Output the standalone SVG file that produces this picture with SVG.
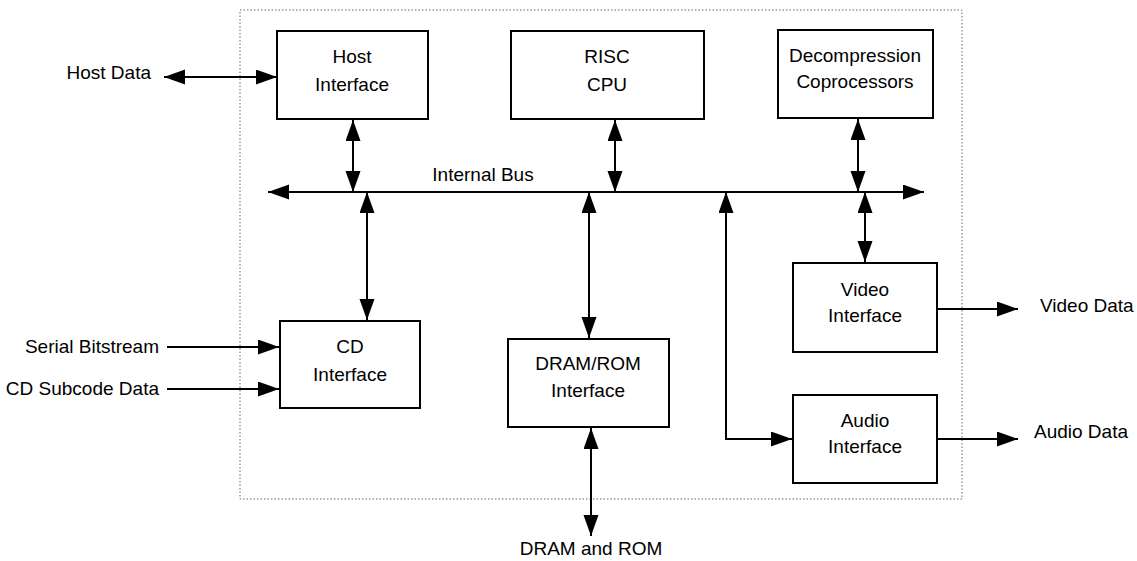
<svg xmlns="http://www.w3.org/2000/svg" width="1137" height="561" viewBox="0 0 1137 561">
  <style>
    .box { fill: #fff; stroke: #000; stroke-width: 2; }
    .lbl { font-family: "Liberation Sans", Arial, sans-serif; font-size: 19px; fill: #000; }
    .mid { text-anchor: middle; }
    .end { text-anchor: end; }
    .wire { fill: none; stroke: #000; stroke-width: 2; }
    .one { marker-end: url(#head); }
    .two { marker-start: url(#head); marker-end: url(#head); }
    .chip { fill: none; stroke: #666; stroke-width: 1; stroke-dasharray: 1.5 2; }
  </style>
  <defs>
    <marker id="head" markerUnits="userSpaceOnUse" markerWidth="22" markerHeight="16" refX="21" refY="7.5" orient="auto-start-reverse">
      <path d="M0,0 L21,7.5 L0,15 Z" fill="#000"/>
    </marker>
  </defs>

  <rect width="1137" height="561" fill="#fff"/>

  <!-- chip boundary -->
  <rect class="chip" x="240" y="10" width="722" height="489"/>

  <!-- connectors -->
  <g id="connectors">
    <line class="wire two" x1="268" y1="192" x2="924" y2="192"/>
    <line class="wire two" x1="164" y1="77" x2="277" y2="77"/>
    <line class="wire two" x1="353" y1="120" x2="353" y2="192"/>
    <line class="wire two" x1="615" y1="120" x2="615" y2="192"/>
    <line class="wire two" x1="858" y1="119" x2="858" y2="192"/>
    <line class="wire two" x1="367" y1="192" x2="367" y2="320"/>
    <line class="wire two" x1="589" y1="192" x2="589" y2="338"/>
    <line class="wire two" x1="865" y1="192" x2="865" y2="262"/>
    <path class="wire two" d="M726,192 L726,439 L792,439"/>
    <line class="wire two" x1="591" y1="428" x2="591" y2="536"/>
    <line class="wire one" x1="167" y1="347" x2="279" y2="347"/>
    <line class="wire one" x1="167" y1="389" x2="279" y2="389"/>
    <line class="wire one" x1="937" y1="309" x2="1018" y2="309"/>
    <line class="wire one" x1="937" y1="439" x2="1018" y2="439"/>
  </g>

  <text class="lbl mid" x="483" y="181">Internal Bus</text>

  <g id="host-interface">
    <rect class="box" x="277" y="31" width="151" height="88"/>
    <text class="lbl mid" x="352" y="63">Host</text>
    <text class="lbl mid" x="352" y="91">Interface</text>
  </g>

  <g id="risc-cpu">
    <rect class="box" x="511" y="31" width="193" height="88"/>
    <text class="lbl mid" x="607" y="63">RISC</text>
    <text class="lbl mid" x="607" y="91">CPU</text>
  </g>

  <g id="decompression">
    <rect class="box" x="778" y="30" width="155" height="88"/>
    <text class="lbl mid" x="855" y="62">Decompression</text>
    <text class="lbl mid" x="855" y="88">Coprocessors</text>
  </g>

  <g id="cd-interface">
    <rect class="box" x="280" y="321" width="140" height="87"/>
    <text class="lbl mid" x="350" y="353">CD</text>
    <text class="lbl mid" x="350" y="381">Interface</text>
  </g>

  <g id="dram-rom-interface">
    <rect class="box" x="508" y="339" width="161" height="88"/>
    <text class="lbl mid" x="588" y="370">DRAM/ROM</text>
    <text class="lbl mid" x="588" y="397">Interface</text>
  </g>

  <g id="video-interface">
    <rect class="box" x="793" y="263" width="144" height="89"/>
    <text class="lbl mid" x="865" y="296">Video</text>
    <text class="lbl mid" x="865" y="322">Interface</text>
  </g>

  <g id="audio-interface">
    <rect class="box" x="793" y="395" width="144" height="88"/>
    <text class="lbl mid" x="865" y="427">Audio</text>
    <text class="lbl mid" x="865" y="453">Interface</text>
  </g>

  <g id="external-labels">
    <text class="lbl end" x="151" y="79">Host Data</text>
    <text class="lbl end" x="159" y="353">Serial Bitstream</text>
    <text class="lbl end" x="159" y="395">CD Subcode Data</text>
    <text class="lbl" x="1040" y="312">Video Data</text>
    <text class="lbl" x="1034" y="438">Audio Data</text>
    <text class="lbl mid" x="591" y="555">DRAM and ROM</text>
  </g>
</svg>
